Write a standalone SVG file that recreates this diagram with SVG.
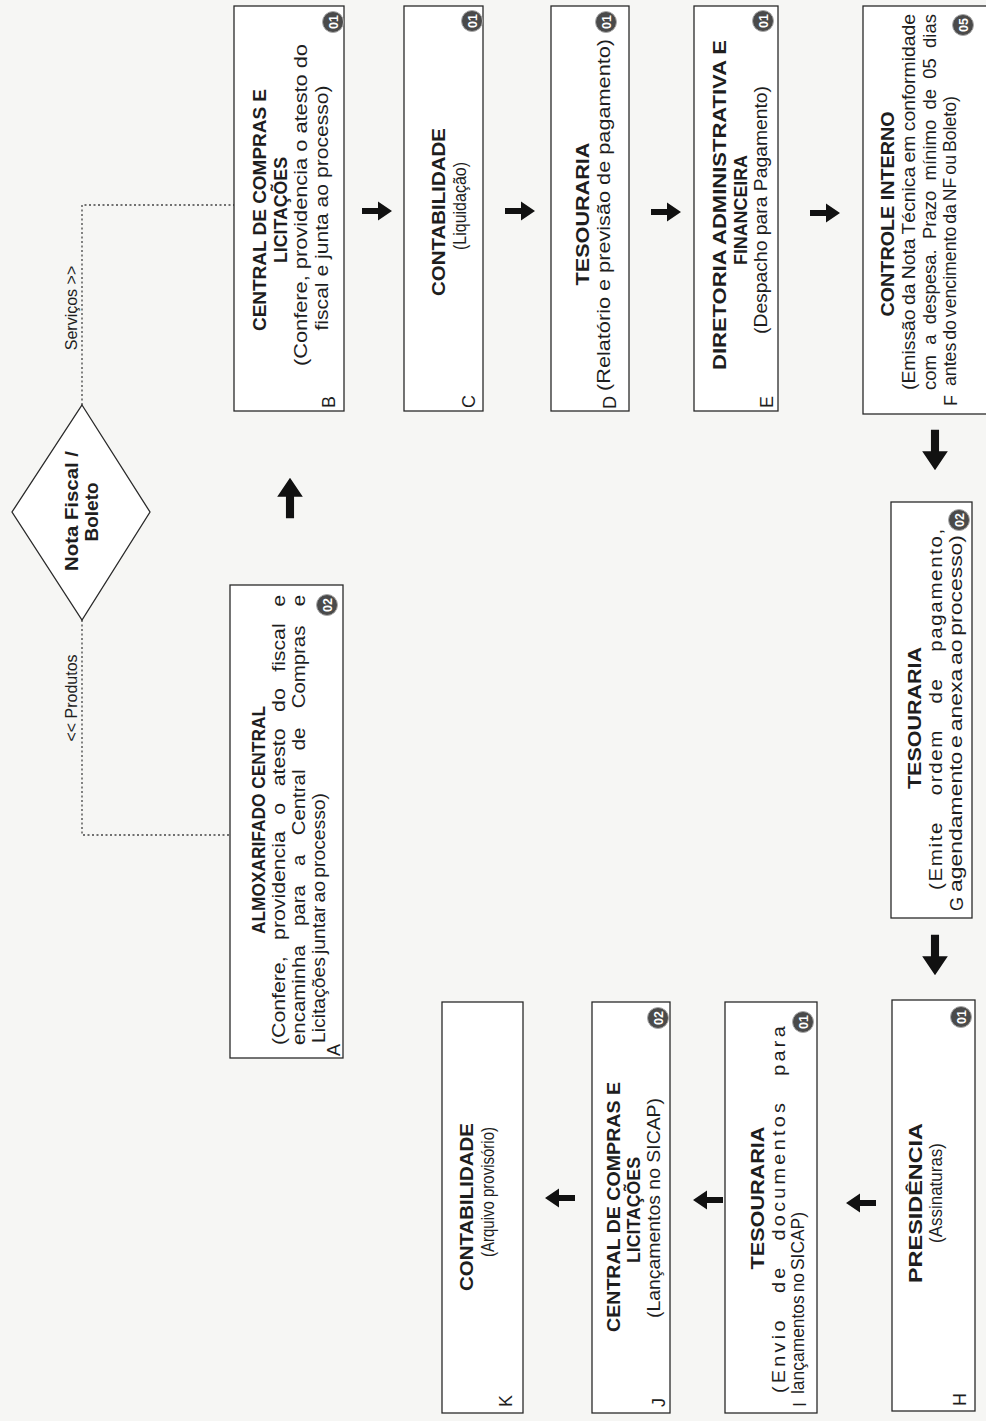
<svg xmlns="http://www.w3.org/2000/svg" width="986" height="1421" viewBox="0 0 986 1421">
<style>
.bg{fill:#f6f6f4}
.box{fill:#fff;stroke:#2a2a2a;stroke-width:1.3}
.t{font-family:"Liberation Sans",Arial,sans-serif;fill:#1e1e1e}
.b{font-weight:bold;font-size:19px}
.r{font-size:18px}
.l{font-size:18px}
.lab{font-size:16px}
.bd circle{fill:#4a4a4a;stroke:#aaa;stroke-width:1}
.bd text{font-family:"Liberation Sans",Arial,sans-serif;font-weight:bold;font-size:12.5px;fill:#fff}
.dot{fill:none;stroke:#444;stroke-width:1.3;stroke-dasharray:2 2.5}
.arr{fill:#111}
</style>
<defs>
<path id="ar" d="M-15,-3 H1 V-9.5 L15,0 L1,9.5 V3 H-15 Z"/>
</defs>
<rect class="bg" x="0" y="0" width="986" height="1421"/>

<g id="connectors">
<path class="dot" d="M82,405 V205 H234"/>
<path class="dot" d="M82,620 V835 H230"/>
<text class="t lab" transform="translate(77,308) rotate(-90)" text-anchor="middle">Serviços &gt;&gt;</text>
<text class="t lab" transform="translate(77,698) rotate(-90)" text-anchor="middle">&lt;&lt; Produtos</text>
<g class="arr">
<use href="#ar" transform="translate(290,498) rotate(-90) scale(1.35)"/>
<use href="#ar" transform="translate(377,211)"/>
<use href="#ar" transform="translate(520,211)"/>
<use href="#ar" transform="translate(666,212)"/>
<use href="#ar" transform="translate(825,213)"/>
<use href="#ar" transform="translate(935,450) rotate(90) scale(1.35)"/>
<use href="#ar" transform="translate(935,955) rotate(90) scale(1.35)"/>
<use href="#ar" transform="translate(861,1203) rotate(180)"/>
<use href="#ar" transform="translate(708,1200) rotate(180)"/>
<use href="#ar" transform="translate(560,1198) rotate(180)"/>
</g>
</g>

<g id="decision">
<polygon points="82,405 150,512 82,620 12,512" fill="#fff" stroke="#2a2a2a" stroke-width="1.3"/>
<text class="t b" transform="translate(78,511) rotate(-90)" text-anchor="middle" textLength="120" lengthAdjust="spacingAndGlyphs">Nota Fiscal /</text>
<text class="t b" transform="translate(98,512) rotate(-90)" text-anchor="middle">Boleto</text>
</g>

<g id="nodeA">
<rect class="box" x="230" y="585" width="113" height="473"/>
<text class="t b" transform="translate(265,820) rotate(-90)" text-anchor="middle" textLength="228" lengthAdjust="spacingAndGlyphs">ALMOXARIFADO CENTRAL</text>
<text class="t r" transform="translate(285,1045) rotate(-90)" style="word-spacing:9px" textLength="450" lengthAdjust="spacingAndGlyphs">(Confere, providencia o atesto do fiscal e</text>
<text class="t r" transform="translate(305,1045) rotate(-90)" style="word-spacing:12px" textLength="450" lengthAdjust="spacingAndGlyphs">encaminha para a Central de Compras e</text>
<text class="t r" transform="translate(325,1043) rotate(-90)" style="word-spacing:-2px" textLength="250" lengthAdjust="spacingAndGlyphs">Licitações juntar ao processo)</text>
<text class="t l" transform="translate(340,1056) rotate(-90)">A</text>
<g class="bd" transform="translate(327,605)"><circle r="10.5"/><text transform="rotate(-90)" y="4.5" text-anchor="middle">02</text></g>
</g>

<g id="nodeB">
<rect class="box" x="234" y="6" width="110" height="405"/>
<text class="t b" transform="translate(266,210) rotate(-90)" text-anchor="middle" textLength="242" lengthAdjust="spacingAndGlyphs">CENTRAL DE COMPRAS E</text>
<text class="t b" transform="translate(287,210) rotate(-90)" text-anchor="middle" textLength="106" lengthAdjust="spacingAndGlyphs">LICITAÇÕES</text>
<text class="t r" transform="translate(307,205) rotate(-90)" text-anchor="middle" textLength="322" lengthAdjust="spacingAndGlyphs">(Confere, providencia o atesto do</text>
<text class="t r" transform="translate(328,208) rotate(-90)" text-anchor="middle" textLength="245" lengthAdjust="spacingAndGlyphs">fiscal e junta ao processo)</text>
<text class="t l" transform="translate(335,408) rotate(-90)">B</text>
<g class="bd" transform="translate(333,22)"><circle r="10.5"/><text transform="rotate(-90)" y="4.5" text-anchor="middle">01</text></g>
</g>

<g id="nodeC">
<rect class="box" x="404" y="6" width="79" height="405"/>
<text class="t b" transform="translate(445,212) rotate(-90)" text-anchor="middle" textLength="168" lengthAdjust="spacingAndGlyphs">CONTABILIDADE</text>
<text class="t r" transform="translate(466,206) rotate(-90)" text-anchor="middle" textLength="88" lengthAdjust="spacingAndGlyphs">(Liquidação)</text>
<text class="t l" transform="translate(475,408) rotate(-90)">C</text>
<g class="bd" transform="translate(472,21)"><circle r="10.5"/><text transform="rotate(-90)" y="4.5" text-anchor="middle">01</text></g>
</g>

<g id="nodeD">
<rect class="box" x="551" y="6" width="78" height="405"/>
<text class="t b" transform="translate(589,214) rotate(-90)" text-anchor="middle" textLength="143" lengthAdjust="spacingAndGlyphs">TESOURARIA</text>
<text class="t r" transform="translate(610,215) rotate(-90)" text-anchor="middle" textLength="352" lengthAdjust="spacingAndGlyphs">(Relatório e previsão de pagamento)</text>
<text class="t l" transform="translate(616,409) rotate(-90)">D</text>
<g class="bd" transform="translate(606,22)"><circle r="10.5"/><text transform="rotate(-90)" y="4.5" text-anchor="middle">01</text></g>
</g>

<g id="nodeE">
<rect class="box" x="694" y="6" width="84" height="405"/>
<text class="t b" transform="translate(726,205) rotate(-90)" text-anchor="middle" textLength="330" lengthAdjust="spacingAndGlyphs">DIRETORIA ADMINISTRATIVA E</text>
<text class="t b" transform="translate(747,210) rotate(-90)" text-anchor="middle" textLength="110" lengthAdjust="spacingAndGlyphs">FINANCEIRA</text>
<text class="t r" transform="translate(767,210) rotate(-90)" text-anchor="middle" textLength="248" lengthAdjust="spacingAndGlyphs">(Despacho para Pagamento)</text>
<text class="t l" transform="translate(773,408) rotate(-90)">E</text>
<g class="bd" transform="translate(763,21)"><circle r="10.5"/><text transform="rotate(-90)" y="4.5" text-anchor="middle">01</text></g>
</g>

<g id="nodeF">
<rect class="box" x="863" y="6" width="125" height="408"/>
<text class="t b" transform="translate(894,214) rotate(-90)" text-anchor="middle" textLength="205" lengthAdjust="spacingAndGlyphs">CONTROLE INTERNO</text>
<text class="t r" transform="translate(915,390) rotate(-90)" style="word-spacing:-1px" textLength="376" lengthAdjust="spacingAndGlyphs">(Emissão da Nota Técnica em conformidade</text>
<text class="t r" transform="translate(936,390) rotate(-90)" style="word-spacing:5px" textLength="376" lengthAdjust="spacingAndGlyphs">com a despesa. Prazo mínimo de 05 dias</text>
<text class="t r" transform="translate(956,386) rotate(-90)" style="word-spacing:-2px" textLength="290" lengthAdjust="spacingAndGlyphs">antes do vencimento da NF ou Boleto)</text>
<text class="t l" transform="translate(957,406) rotate(-90)">F</text>
<g class="bd" transform="translate(963,25)"><circle r="10.5"/><text transform="rotate(-90)" y="4.5" text-anchor="middle">05</text></g>
</g>

<g id="nodeG">
<rect class="box" x="891" y="502" width="81" height="416"/>
<text class="t b" transform="translate(921,718) rotate(-90)" text-anchor="middle" textLength="142" lengthAdjust="spacingAndGlyphs">TESOURARIA</text>
<text class="t r" transform="translate(942,890) rotate(-90)" style="letter-spacing:1.5px;word-spacing:16px" textLength="363" lengthAdjust="spacingAndGlyphs">(Emite ordem de pagamento,</text>
<text class="t r" transform="translate(962,892) rotate(-90)" style="word-spacing:-2px" textLength="357" lengthAdjust="spacingAndGlyphs">agendamento e anexa ao processo)</text>
<text class="t l" transform="translate(963,911) rotate(-90)">G</text>
<g class="bd" transform="translate(959,520)"><circle r="10.5"/><text transform="rotate(-90)" y="4.5" text-anchor="middle">02</text></g>
</g>

<g id="nodeH">
<rect class="box" x="892" y="1000" width="83" height="411"/>
<text class="t b" transform="translate(922,1203) rotate(-90)" text-anchor="middle" textLength="160" lengthAdjust="spacingAndGlyphs">PRESIDÊNCIA</text>
<text class="t r" transform="translate(942,1193) rotate(-90)" text-anchor="middle" textLength="100" lengthAdjust="spacingAndGlyphs">(Assinaturas)</text>
<text class="t l" transform="translate(966,1406) rotate(-90)">H</text>
<g class="bd" transform="translate(961,1017)"><circle r="10.5"/><text transform="rotate(-90)" y="4.5" text-anchor="middle">01</text></g>
</g>

<g id="nodeI">
<rect class="box" x="725" y="1002" width="92" height="411"/>
<text class="t b" transform="translate(764,1198) rotate(-90)" text-anchor="middle" textLength="143" lengthAdjust="spacingAndGlyphs">TESOURARIA</text>
<text class="t r" transform="translate(785,1393) rotate(-90)" style="letter-spacing:3px;word-spacing:14px" textLength="370" lengthAdjust="spacingAndGlyphs">(Envio de documentos para</text>
<text class="t r" transform="translate(804,1394) rotate(-90)" style="word-spacing:-2px" textLength="182" lengthAdjust="spacingAndGlyphs">lançamentos no SICAP)</text>
<text class="t l" transform="translate(806,1407) rotate(-90)">I</text>
<g class="bd" transform="translate(803,1022)"><circle r="10.5"/><text transform="rotate(-90)" y="4.5" text-anchor="middle">01</text></g>
</g>

<g id="nodeJ">
<rect class="box" x="592" y="1002" width="78" height="411"/>
<text class="t b" transform="translate(620,1207) rotate(-90)" text-anchor="middle" textLength="250" lengthAdjust="spacingAndGlyphs">CENTRAL DE COMPRAS E</text>
<text class="t b" transform="translate(640,1210) rotate(-90)" text-anchor="middle" textLength="106" lengthAdjust="spacingAndGlyphs">LICITAÇÕES</text>
<text class="t r" transform="translate(660,1208) rotate(-90)" text-anchor="middle" textLength="220" lengthAdjust="spacingAndGlyphs">(Lançamentos no SICAP)</text>
<text class="t l" transform="translate(665,1407) rotate(-90)">J</text>
<g class="bd" transform="translate(658,1018)"><circle r="10.5"/><text transform="rotate(-90)" y="4.5" text-anchor="middle">02</text></g>
</g>

<g id="nodeK">
<rect class="box" x="442" y="1002" width="81" height="411"/>
<text class="t b" transform="translate(473,1207) rotate(-90)" text-anchor="middle" textLength="168" lengthAdjust="spacingAndGlyphs">CONTABILIDADE</text>
<text class="t r" transform="translate(494,1192) rotate(-90)" text-anchor="middle" textLength="130" lengthAdjust="spacingAndGlyphs">(Arquivo provisório)</text>
<text class="t l" transform="translate(512,1407) rotate(-90)">K</text>
</g>
</svg>
